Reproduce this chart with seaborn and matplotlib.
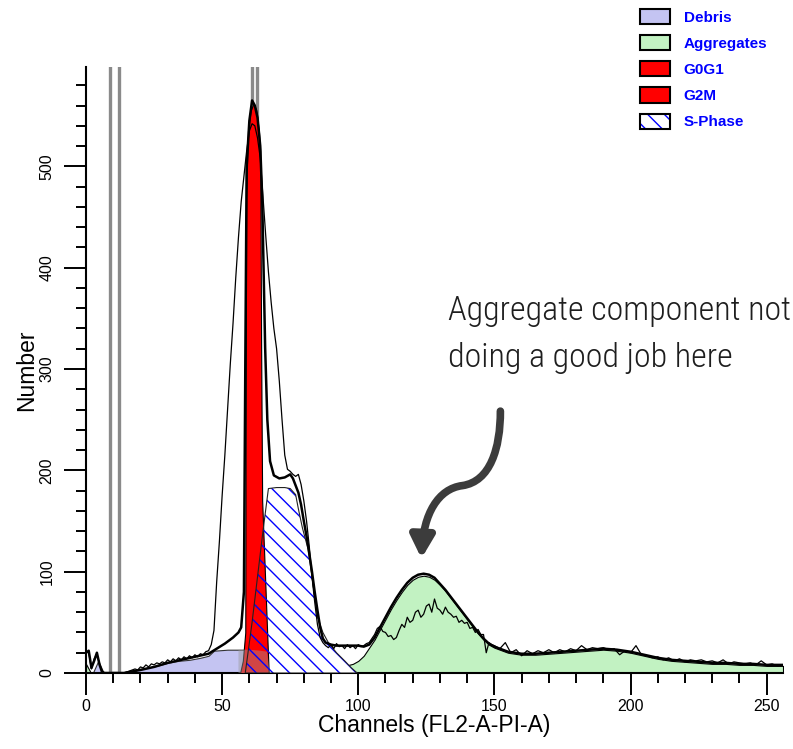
import numpy as np
import matplotlib
matplotlib.use("Agg")
import matplotlib.pyplot as plt
import seaborn as sns
from matplotlib.patches import Patch, FancyArrowPatch
from matplotlib.path import Path
from matplotlib.legend_handler import HandlerTuple
from matplotlib.ticker import MultipleLocator

# ---------------- data ----------------
# raw histogram (thin line)
data_x = ([0, 1, 2, 3, 4, 5, 6, 7, 14, 16, 18]
          + list(range(19, 150)) + list(range(150, 257, 2)))
data_y = [21, 20, 4, 14, 19, 8, 2, 0, 0, 2, 4,
          3, 6, 5, 8, 6, 9, 8, 10, 9, 11,
          10, 13, 11, 14, 12, 15, 13, 16, 14, 17,
          15, 18, 16, 19, 18, 21, 22, 28, 42, 90,
          130, 175, 215, 260, 305, 345, 390, 430, 465, 490,
          515, 535, 542, 540, 528, 508, 470, 432, 396, 366,
          340, 320, 288, 250, 215, 201, 199, 196, 194, 196,
          186, 170, 150, 125, 95, 70, 48, 35, 30, 27,
          25, 28, 24, 29, 26, 27, 24, 28, 25, 27,
          24, 28, 26, 27, 29, 30, 34, 38, 44, 46,
          41, 40, 36, 37, 33, 35, 42, 48, 45, 55,
          50, 52, 60, 62, 55, 58, 66, 68, 60, 73,
          64, 62, 58, 65, 60, 58, 55, 56, 50, 52,
          49, 50, 44, 45, 40, 43, 38, 38, 20, 30,
          28,
          27, 24, 30, 20, 23, 17, 22, 19, 22, 20,
          23, 20, 23, 21, 24, 22, 27, 23, 25, 24,
          25, 23, 24, 18, 22, 20, 27, 18, 17, 15,
          16, 13, 15, 12, 14, 11, 13, 12, 13, 11,
          12, 10, 13, 9, 11, 10, 9, 10, 8, 12,
          8, 9, 7, 8]

# model fit (thick line)
fit_x = [0, 1, 2, 3, 4, 5, 6, 8, 14, 16, 20, 25, 30, 35, 40, 45, 48, 51, 54, 56,
         57, 58, 58.5, 59, 60, 61, 62, 63, 64, 64.7, 65.8, 66.6, 67.6, 69, 71, 73,
         75, 76, 77, 78, 79, 80, 81, 82, 83, 84, 85, 86, 87, 88, 90, 92, 94, 96,
         98, 100, 102, 104, 106, 108, 110, 112, 114, 116, 118, 120, 122, 124, 126,
         128, 130, 132, 134, 136, 138, 140, 142, 144, 146, 148, 150, 155, 160, 165,
         170, 175, 180, 185, 190, 195, 200, 205, 210, 215, 220, 225, 230, 235, 240,
         245, 250, 256]
fit_y = [20, 22, 5, 12, 20, 8, 0, 0, 0, 1, 3, 6, 10, 13, 16, 19, 24, 29, 35, 40,
         45, 80, 300, 500, 545, 565, 560, 548, 520, 470, 321, 250, 209, 195, 192, 193,
         196, 192, 185, 178, 166, 150, 135, 118, 100, 80, 62, 45, 34, 30, 28, 27, 27, 27,
         27, 27, 26, 28, 35, 45, 55, 65, 74, 82, 89, 94, 97, 98, 97,
         94, 88, 82, 75, 68, 61, 54, 47, 40, 34, 29, 26, 21, 19, 19,
         20, 21, 22, 23, 24, 23, 21, 18, 15, 13, 12, 11, 10, 10, 9,
         9, 8, 8]

# components
debris_x = [2.5, 4.5, 6.5, 10, 14, 18, 22, 26, 30, 34, 38, 42, 45, 47, 52, 56, 60, 64, 66.5, 67.5]
debris_y = [0, 12, 0, 0, 1, 3, 5, 7, 10, 12, 13, 15, 17, 22, 23, 23, 23, 22, 21, 0]

agg_x = [0, 1.8, 44, 48, 52, 56, 60, 65, 70, 75, 80, 85, 90, 95, 98, 100, 102, 104, 106, 108,
         110, 112, 114, 116, 118, 120, 122, 124, 126, 128, 130, 132, 134, 136, 138, 140,
         142, 144, 146, 148, 150, 155, 160, 165, 170, 175, 180, 185, 190, 195, 200, 205,
         210, 215, 220, 225, 230, 235, 240, 245, 250, 256]
agg_y = [9, 0, 0, 2, 4, 5, 6, 6, 6, 6, 5, 5, 6, 7, 9, 12, 17, 25, 33, 43,
         53, 63, 72, 80, 87, 92, 95, 96, 95, 92, 87, 81, 74, 67, 60, 53,
         46, 39, 33, 28, 25, 20, 18, 18, 19, 20, 21, 22, 23, 22, 20, 17,
         14, 12, 11, 10, 9, 9, 8, 8, 7, 7]

g0g1_x = [56.6, 57.6, 58.5, 58.8, 59.5, 60.5, 61.5, 62.5, 63.5, 64.0, 64.3, 64.7, 65.9, 67.1]
g0g1_y = [0, 12, 40, 470, 535, 555, 562, 556, 535, 515, 330, 170, 85, 0]

g2m_x = [118, 120, 122, 124, 126]
g2m_y = [0, 2, 3, 2, 0]

sphase_x = [58.5, 61, 63, 65, 67, 70, 73, 75, 77, 78, 79.5, 81.6, 83, 85, 87, 89, 92, 95, 97.5, 99.6]
sphase_y = [0, 50, 95, 140, 182, 183, 183, 182, 176, 162, 143, 122, 95, 56, 40, 30, 20, 12, 5, 0]

# off-scale spikes
spike_left = [8.8, 60.9]
spike_width = [3.4, 1.9]
spike_count = [650, 650]

legend_labels = ["Debris", "Aggregates", "G0G1", "G2M", "S-Phase"]
note_text = "Aggregate component not\ndoing a good job here"

DEB_C = "#c4c4f2"
AGG_C = "#c2f2c2"
RED_C = "#ff0000"

# ---------------- figure ----------------
sns.set_theme(style="ticks")
plt.rcParams["font.family"] = ["Liberation Sans", "DejaVu Sans"]
plt.rcParams["hatch.linewidth"] = 1.0

fig = plt.figure(figsize=(7.93, 7.49), dpi=100)
ax = fig.add_axes([0.10845, 0.10147, 0.87894, 0.80908])

ax.bar(spike_left, spike_count, width=spike_width, align="edge",
       facecolor="white", edgecolor="#8a8a8a", linewidth=2.4, zorder=1)

ax.fill_between(g2m_x, g2m_y, 0, facecolor=RED_C, edgecolor="black", linewidth=0.6, zorder=1.5)
ax.fill_between(agg_x, agg_y, 0, facecolor=AGG_C, edgecolor="black", linewidth=0.8, zorder=2)
ax.fill_between(debris_x, debris_y, 0, facecolor=DEB_C, edgecolor="#333333", linewidth=0.8, zorder=2.5)
ax.fill_between(sphase_x, sphase_y, 0, facecolor="white", edgecolor="none", zorder=3)
ax.fill_between(g0g1_x, g0g1_y, 0, facecolor=RED_C, edgecolor="black", linewidth=0.8, zorder=4)
dx = np.array(debris_x)
ax.fill_between(debris_x, debris_y, 0, where=(dx >= 56) & (dx <= 67.5),
                facecolor="#9a9a9a", alpha=0.45, edgecolor="none", zorder=4.5)
ax.fill_between(sphase_x, sphase_y, 0, facecolor="none", edgecolor="blue",
                hatch="\\\\", linewidth=0, zorder=5)
ax.fill_between(sphase_x, sphase_y, 0, facecolor="none", edgecolor="#222222",
                linewidth=0.8, zorder=5.1)

sns.lineplot(x=data_x, y=data_y, ax=ax, color="black", linewidth=0.9,
             estimator=None, sort=False, zorder=6)
sns.lineplot(x=fit_x, y=fit_y, ax=ax, color="black", linewidth=1.8,
             estimator=None, sort=False, zorder=7)

ax.set_xlim(0, 256)
ax.set_ylim(0, 598)
ax.xaxis.set_major_locator(MultipleLocator(50))
ax.xaxis.set_minor_locator(MultipleLocator(10))
ax.yaxis.set_major_locator(MultipleLocator(100))
ax.yaxis.set_minor_locator(MultipleLocator(20))

for s in ["top", "right"]:
    ax.spines[s].set_visible(False)
for s in ["left", "bottom"]:
    ax.spines[s].set_linewidth(1.5)
    ax.spines[s].set_color("black")
ax.tick_params(which="major", length=15.8, width=1.4, color="black",
               direction="out", labelsize=11.5, labelcolor="black")
ax.tick_params(which="minor", length=7.2, width=1.4, color="black", direction="out")
ax.tick_params(axis="x", which="major", pad=3)
ax.tick_params(axis="y", which="major", pad=7, labelrotation=90)
for lab in ax.get_yticklabels():
    lab.set_va("center")

ax.set_xlabel("Channels (FL2-A-PI-A)", fontsize=16.5, color="black", labelpad=0)
ax.set_ylabel("Number", fontsize=16.5, color="black", labelpad=1)
ax.grid(False)
ax.set_facecolor("white")

# annotation
fig.text(448 / 793, 1 - 295 / 749, note_text, ha="left", va="top",
         fontsize=24.5, color="#1e1e1e", linespacing=1.6,
         family=["Roboto Condensed", "Lato", "DejaVu Sans"], weight="light")

verts = [(152.2, 258.4), (152.2, 221.7), (148.5, 188.9), (138.2, 184.9),
         (129.4, 181.9), (123.9, 157.1), (123.2, 113.0)]
codes = [Path.MOVETO, Path.CURVE4, Path.CURVE4, Path.CURVE4,
         Path.CURVE4, Path.CURVE4, Path.CURVE4]
arrow = FancyArrowPatch(path=Path(verts, codes), transform=ax.transData,
                        arrowstyle="-|>,head_length=13,head_width=7",
                        mutation_scale=1, color="#3c3c3c", linewidth=5.5,
                        zorder=10, clip_on=False)
ax.add_patch(arrow)

# legend
handles = [
    Patch(facecolor=DEB_C, edgecolor="black", linewidth=1.5),
    Patch(facecolor=AGG_C, edgecolor="black", linewidth=1.5),
    Patch(facecolor=RED_C, edgecolor="black", linewidth=1.5),
    Patch(facecolor=RED_C, edgecolor="black", linewidth=1.5),
    (Patch(facecolor="white", edgecolor="blue", hatch="\\\\", linewidth=0),
     Patch(facecolor="none", edgecolor="black", linewidth=1.5)),
]
fig.legend(handles, legend_labels, loc="upper left",
           bbox_to_anchor=(640 / 793, 1 - 9 / 749), frameon=False,
           prop={"family": "Liberation Sans", "weight": "bold", "size": 11},
           labelcolor="blue", handlelength=1.96, handleheight=1.15,
           labelspacing=0.68, handletextpad=0.9, borderpad=0, borderaxespad=0,
           handler_map={tuple: HandlerTuple(ndivide=1, pad=0)})

fig.savefig("out.png", dpi=100, facecolor="white")
